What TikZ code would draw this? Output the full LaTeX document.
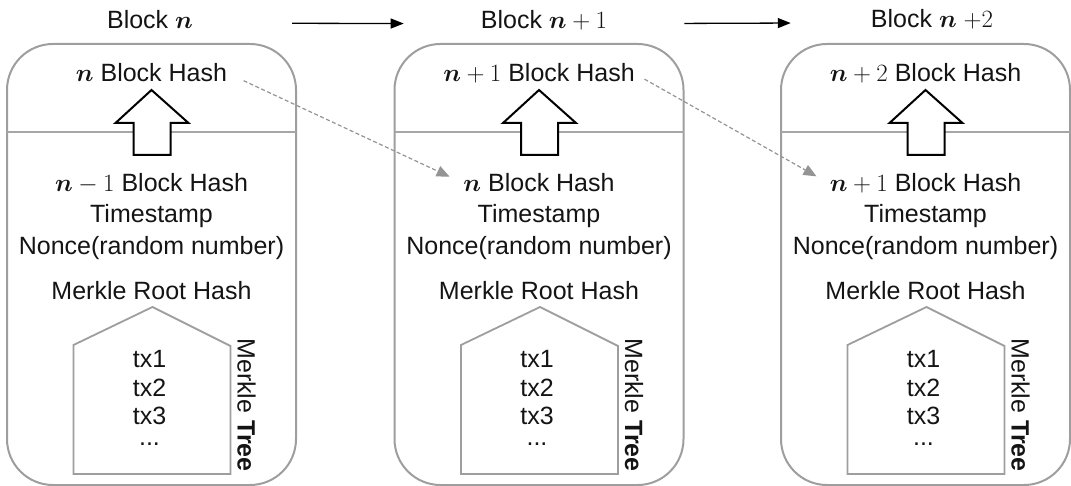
\documentclass[tikz,border=0pt]{standalone}
\usepackage{amsmath}
\usepackage{fontspec}
\setmainfont{Liberation Sans}
\usetikzlibrary{arrows.meta}
\newcommand{\bn}{\boldsymbol{n}}
\begin{document}
\begin{tikzpicture}[x=1pt,y=-1pt,
  every node/.style={font=\fontsize{25}{30}\selectfont, text=black!92, inner sep=0pt, anchor=base},
  blockbox/.style={draw=black!38, line width=2pt, rounded corners=46pt},
  divider/.style={draw=black!35, line width=1.4pt},
  bigarrow/.style={draw=black, fill=white, line width=2pt, line join=miter},
  house/.style={draw=black!38, line width=1.8pt, line join=miter},
  chainarrow/.style={draw=black, line width=1.3pt, -{Triangle[length=13pt,width=10pt]}},
  hashlink/.style={draw=black!42, line width=1.2pt, dash pattern=on 4pt off 2.5pt, -{Triangle[length=13pt,width=11pt]}},
  treelabel/.style={rotate=-90, anchor=center},
  txlist/.style={align=center, font=\fontsize{25}{28.5}\selectfont}
]
\useasboundingbox (0,0) rectangle (1071,486);

\foreach \i/\cx in {1/151.5, 2/539, 3/925.5}{
  \draw[blockbox] (\cx-144.5,44) rectangle (\cx+144.5,485);
  \draw[divider] (\cx-144.5,132) -- (\cx+144.5,132);
  \draw[bigarrow] (\cx,90) -- (\cx+37,123) -- (\cx+19,123) -- (\cx+19,155)
     -- (\cx-18,155) -- (\cx-18,123) -- (\cx-36,123) -- cycle;
  \node (ts\i) at (\cx,223) {Timestamp};
  \node (nc\i) at (\cx,255) {Nonce(random number)};
  \node (mr\i) at (\cx,300) {Merkle Root Hash};
  \draw[house] (\cx+1,307) -- (\cx+79,346) -- (\cx+79,474) -- (\cx-78,474) -- (\cx-78,345) -- cycle;
  \node[txlist] (tx\i) at (\cx-2,445) {tx1\\tx2\\tx3\\[-8pt]...};
  \node[treelabel] (mt\i) at (\cx+95,405) {Merkle \textbf{Tree}};
}

% titles
\node (t1) at (150,29) {Block $\bn$};
\node (t2) at (544,29) {Block $\bn+1$};
\node (t3) at (932,28) {Block $\bn$ $+2$};

% block hashes
\node (h1) at (151.5,82) {$\bn$ Block Hash};
\node (h2) at (539,82) {$\bn+1$ Block Hash};
\node (h3) at (925.5,82) {$\bn+2$ Block Hash};

\node (p1) at (151.5,192) {$\bn-1$ Block Hash};
\node (p2) at (539,192) {$\bn$ Block Hash};
\node (p3) at (925.5,192) {$\bn+1$ Block Hash};

% chain arrows
\draw[chainarrow, shorten <=99pt, shorten >=77pt] ([yshift=-3pt]t1.east) -- ([yshift=-3pt]t2.west);
\draw[chainarrow, shorten <=77pt, shorten >=80pt] ([yshift=-3pt]t2.east) -- ([yshift=-3pt]t3.west);

% hash links
\draw[hashlink, shorten <=18pt, shorten >=15pt] (h1.east) -- (p2.west);
\draw[hashlink, shorten <=11pt, shorten >=15pt] (h2.east) -- (p3.west);
\end{tikzpicture}
\end{document}
